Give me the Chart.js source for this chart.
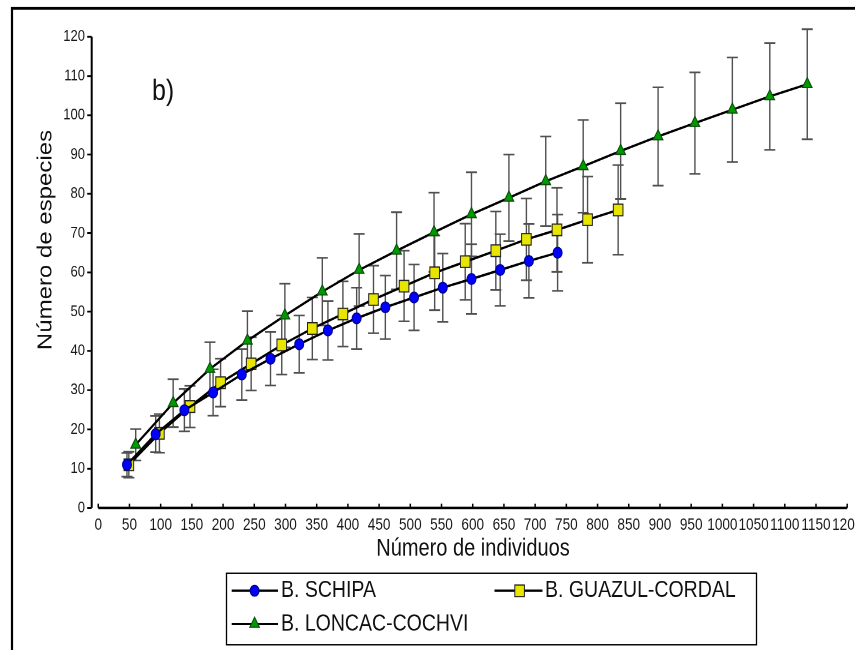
<!DOCTYPE html>
<html>
<head>
<meta charset="utf-8">
<script src="https://cdn.jsdelivr.net/npm/chart.js@4.4.1/dist/chart.umd.min.js"></script>
<style>
  html, body { margin: 0; background: #fff; overflow: hidden; width: 855px; height: 650px; }
  /* the figure is stretched vertically, so draw at 542px tall and stretch to 650 */
  #wrap { width: 855px; height: 542px; transform: scaleY(1.2); transform-origin: 0 0; }
  #hoja { width: 855px; height: 650px; overflow: hidden; }
</style>
</head>
<body>
<div id="hoja"><div id="wrap"><canvas id="curvas" width="855" height="542"></canvas></div></div>
<script>
// Curvas de rarefaccion: individuos (x), especies (y) y desviacion (sd)
const schipaX = [46, 92, 138, 184, 230, 276, 322, 368, 414, 460, 506, 552, 598, 644, 690, 736];
const schipaY = [11.0, 18.8, 24.9, 29.4, 34.0, 38.0, 41.7, 45.2, 48.3, 51.1, 53.6, 56.1, 58.3, 60.6, 62.9, 65.0];
const schipaSd = [3.0, 4.6, 5.4, 5.9, 6.5, 6.8, 7.3, 7.5, 7.8, 8.1, 8.4, 8.7, 8.9, 9.1, 9.4, 9.7];

const guazulX = [49, 98, 147, 196, 245, 294, 343, 392, 441, 490, 539, 588, 637, 686, 735, 784, 833];
const guazulY = [11.0, 19.0, 25.8, 31.9, 36.7, 41.5, 45.7, 49.4, 53.1, 56.5, 59.9, 62.7, 65.5, 68.4, 70.8, 73.4, 75.9];
const guazulSd = [3.3, 4.9, 5.3, 6.1, 6.8, 7.5, 7.9, 8.3, 8.6, 9.0, 9.5, 9.7, 10.0, 10.4, 10.7, 11.0, 11.4];

const loncacX = [60, 120, 179, 239, 299, 359, 418, 478, 538, 598, 658, 717, 777, 837, 897, 956, 1016, 1076, 1136];
const loncacY = [16.1, 26.7, 35.4, 42.6, 49.0, 55.1, 60.6, 65.5, 70.2, 74.8, 79.0, 83.2, 87.0, 90.9, 94.6, 98.0, 101.4, 104.8, 107.9];
const loncacSd = [4.0, 6.1, 6.8, 7.5, 8.1, 8.6, 9.2, 9.8, 10.1, 10.7, 11.0, 11.4, 11.8, 12.2, 12.5, 12.9, 13.3, 13.6, 14.0];

const xTicks = [0, 50, 100, 150, 200, 250, 300, 350, 400, 450, 500, 550, 600, 650, 700, 750, 800, 850, 900, 950, 1000, 1050, 1100, 1150, 1200];
const yTicks = [0, 10, 20, 30, 40, 50, 60, 70, 80, 90, 100, 110, 120];

const fuente = "'Liberation Sans', Arial, sans-serif";

const puntos = (xs, ys) => xs.map((x, i) => ({ x: x, y: ys[i] }));

const series = [
    { label: 'B. SCHIPA', data: puntos(schipaX, schipaY), desvio: schipaSd,
      pointStyle: 'circle', pointRadius: 4.5, pointBackgroundColor: '#0000ff', pointBorderColor: '#00008a' },
    { label: 'B. GUAZUL-CORDAL', data: puntos(guazulX, guazulY), desvio: guazulSd,
      pointStyle: 'rect', pointRadius: 6.8, pointBackgroundColor: '#e8e600', pointBorderColor: '#222' },
    { label: 'B. LONCAC-COCHVI', data: puntos(loncacX, loncacY), desvio: loncacSd,
      pointStyle: 'triangle', pointRadius: 5.6, pointBackgroundColor: '#009a00', pointBorderColor: '#0b4d0b' }
];
series.forEach(s => {
    s.borderColor = '#000';
    s.borderWidth = 2;
    s.pointBorderWidth = 1;
    s.tension = 0;
    s.fill = false;
    s.clip = false;
});

// simbolo de la leyenda
const marcador = (ctx, estilo, x, y, r, relleno, borde) => {
    ctx.beginPath();
    if (estilo === 'circle') {
        ctx.arc(x, y, r, 0, Math.PI * 2);
    } else if (estilo === 'rect') {
        const s = r * Math.SQRT1_2;
        ctx.rect(x - s, y - s, 2 * s, 2 * s);
    } else {
        ctx.moveTo(x, y - r);
        ctx.lineTo(x + r * 0.866, y + r * 0.5);
        ctx.lineTo(x - r * 0.866, y + r * 0.5);
        ctx.closePath();
    }
    ctx.fillStyle = relleno;
    ctx.fill();
    ctx.lineWidth = 1;
    ctx.strokeStyle = borde;
    ctx.stroke();
};

const barrasError = {
    id: 'barrasError',
    beforeDatasetsDraw(chart) {
        const ctx = chart.ctx;
        const sx = chart.scales.x, sy = chart.scales.y;
        ctx.save();
        ctx.strokeStyle = '#505050';
        ctx.lineWidth = 1.4;
        chart.data.datasets.forEach(ds => {
            ds.data.forEach((p, i) => {
                const px = sx.getPixelForValue(p.x);
                const arriba = sy.getPixelForValue(p.y + ds.desvio[i]);
                const abajo = sy.getPixelForValue(p.y - ds.desvio[i]);
                ctx.beginPath();
                ctx.moveTo(px, arriba); ctx.lineTo(px, abajo);
                ctx.moveTo(px - 5.5, arriba); ctx.lineTo(px + 5.5, arriba);
                ctx.moveTo(px - 5.5, abajo); ctx.lineTo(px + 5.5, abajo);
                ctx.stroke();
            });
        });
        ctx.restore();
    }
};

const ejesYTextos = {
    id: 'ejesYTextos',
    afterDraw(chart) {
        const ctx = chart.ctx;
        const sx = chart.scales.x, sy = chart.scales.y;
        ctx.save();

        // marco
        ctx.strokeStyle = '#000';
        ctx.lineWidth = 2.2;
        ctx.beginPath();
        ctx.moveTo(12, 900); ctx.lineTo(12, 7); ctx.lineTo(900, 7);
        ctx.stroke();

        // ejes
        const x0 = sx.getPixelForValue(0), x1 = sx.getPixelForValue(1200);
        const y0 = sy.getPixelForValue(0), y1 = sy.getPixelForValue(120);
        const ejeY = chart.chartArea.left;
        ctx.lineWidth = 2;
        ctx.beginPath();
        ctx.moveTo(ejeY, y1); ctx.lineTo(ejeY, y0);
        ctx.moveTo(x0, y0); ctx.lineTo(x1, y0);
        ctx.stroke();
        ctx.lineWidth = 1.5;
        ctx.beginPath();
        yTicks.forEach(v => {
            const py = sy.getPixelForValue(v);
            ctx.moveTo(ejeY - 4.5, py); ctx.lineTo(ejeY, py);
        });
        xTicks.forEach(v => {
            const px = sx.getPixelForValue(v);
            ctx.moveTo(px, y0); ctx.lineTo(px, y0 - 3.5);
        });
        ctx.stroke();

        // titulos
        ctx.fillStyle = '#111';
        ctx.font = '20px ' + fuente;
        ctx.textAlign = 'center';
        ctx.textBaseline = 'middle';
        ctx.fillText('Número de individuos', 473, 457.5);
        ctx.save();
        ctx.translate(46, 200);
        ctx.rotate(-Math.PI / 2);
        ctx.fillText('Número de especies', 0, 0);
        ctx.restore();

        ctx.font = '25px ' + fuente;
        ctx.textAlign = 'left';
        ctx.textBaseline = 'alphabetic';
        ctx.fillText('b)', 152, 83.5);

        // leyenda
        ctx.lineWidth = 1.3;
        ctx.strokeStyle = '#000';
        ctx.strokeRect(226.5, 477.8, 530, 59.4);
        const lugares = [
            { x1: 231.7, x2: 278, m: 254.6, t: 281, y: 492.3 },
            { x1: 494.5, x2: 542.5, m: 519.6, t: 545, y: 492.3 },
            { x1: 231.7, x2: 278, m: 254.6, t: 281, y: 520 }
        ];
        ctx.font = '19.5px ' + fuente;
        ctx.textBaseline = 'middle';
        chart.data.datasets.forEach((ds, i) => {
            const l = lugares[i];
            ctx.strokeStyle = '#000';
            ctx.lineWidth = 2;
            ctx.beginPath();
            ctx.moveTo(l.x1, l.y); ctx.lineTo(l.x2, l.y);
            ctx.stroke();
            marcador(ctx, ds.pointStyle, l.m, l.y, ds.pointRadius, ds.pointBackgroundColor, ds.pointBorderColor);
            ctx.fillStyle = '#111';
            ctx.fillText(ds.label, l.t, l.y);
        });
        ctx.restore();
    }
};

new Chart(document.getElementById('curvas').getContext('2d'), {
    type: 'line',
    data: { datasets: series },
    options: {
        responsive: false,
        animation: false,
        devicePixelRatio: 2,
        layout: { padding: { top: 30.6, right: 6, left: 0, bottom: 0 } },
        plugins: { legend: { display: false }, tooltip: { enabled: false } },
        scales: {
            x: {
                type: 'linear', min: -10.5, max: 1200,
                afterBuildTicks: (s) => { s.ticks = xTicks.map(v => ({ value: v })); },
                afterFit: (s) => { s.height = 118.7; s.paddingLeft = 0; s.paddingRight = 0; },
                grid: { display: false, drawTicks: false },
                border: { display: false },
                ticks: { autoSkip: false, maxRotation: 0, padding: 6.5, color: '#1a1a1a',
                         font: { family: fuente, size: 13.6 }, callback: (v) => String(v) }
            },
            y: {
                type: 'linear', min: 0, max: 120,
                afterBuildTicks: (s) => { s.ticks = yTicks.map(v => ({ value: v })); },
                afterFit: (s) => { s.width = 91.7; s.paddingTop = 0; s.paddingBottom = 0; },
                grid: { display: false, drawTicks: false },
                border: { display: false },
                ticks: { padding: 6.7, color: '#1a1a1a', font: { family: fuente, size: 13 },
                         callback: (v) => String(v) }
            }
        }
    },
    plugins: [barrasError, ejesYTextos]
});
</script>
</body>
</html>
